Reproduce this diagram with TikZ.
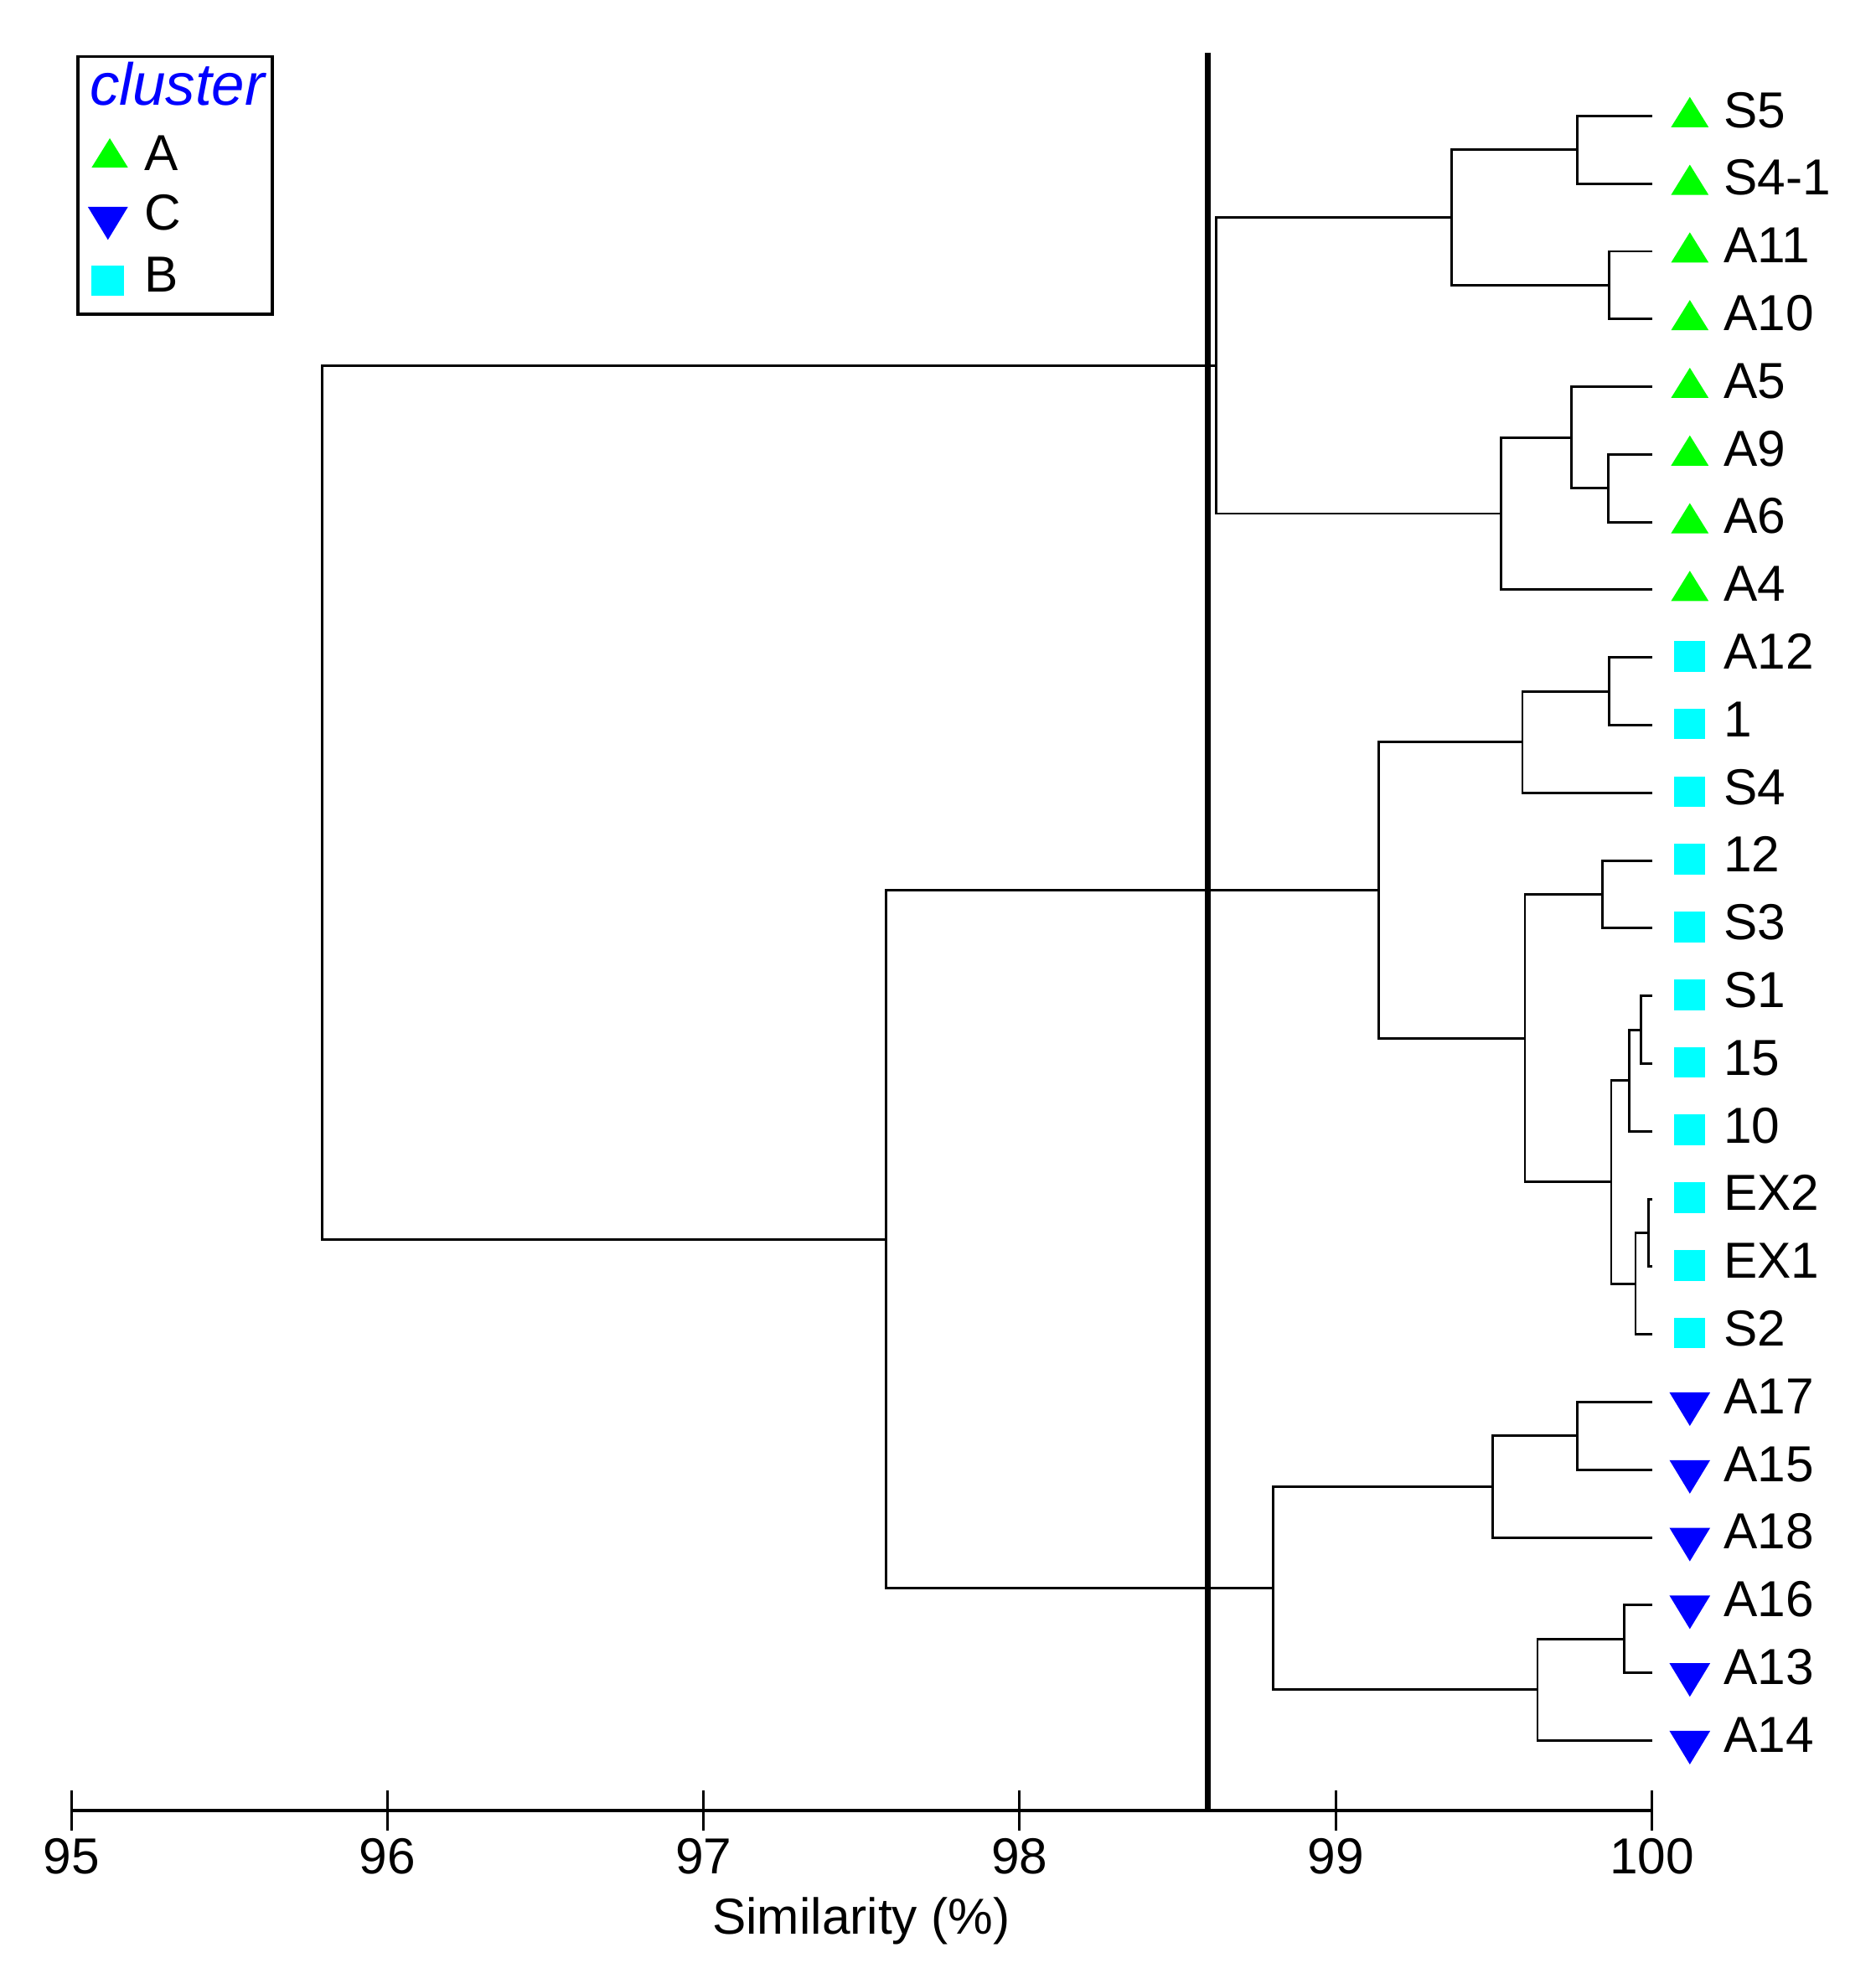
\documentclass[tikz,border=0pt]{standalone}
\usepackage{fontspec}
\setmainfont{Liberation Sans}
\usetikzlibrary{shapes.geometric}
\definecolor{cgreen}{RGB}{0,255,0}
\definecolor{cblue}{RGB}{0,0,255}
\definecolor{ccyan}{RGB}{0,255,255}
\tikzset{
  br/.style={line width=0.55pt, black},
  lab/.style={anchor=base west, inner sep=0pt, font=\fontsize{11.5}{13}\selectfont, yshift=-0.92mm},
  mu/.style={regular polygon, regular polygon sides=3, fill=cgreen, draw=none, inner sep=0pt, minimum size=3.46mm, yscale=0.93, yshift=-0.1mm},
  md/.style={regular polygon, regular polygon sides=3, shape border rotate=180, fill=cblue, draw=none, inner sep=0pt, minimum size=3.76mm, yscale=0.95, yshift=-0.13mm},
  ms/.style={rectangle, fill=ccyan, draw=none, inner sep=0pt, minimum width=2.46mm, minimum height=2.45mm, yshift=0.1mm},
  ticklab/.style={anchor=base, inner sep=0pt, font=\fontsize{11.5}{13}\selectfont},
}
\begin{document}
\begin{tikzpicture}[x=0.1mm, y=-0.1mm]
\useasboundingbox (0,0) rectangle (1498,1568);

% ---------- dendrogram ----------
\begin{scope}[y=-5.407mm, shift={(0mm,-9.26mm)}]
\foreach \n/\lab/\m [count=\i from 0] in {
  S5/S5/mu, S4-1/S4-1/mu, A11/A11/mu, A10/A10/mu, A5/A5/mu, A9/A9/mu, A6/A6/mu, A4/A4/mu,
  A12/A12/ms, 1/1/ms, S4/S4/ms, 12/12/ms, S3/S3/ms, S1/S1/ms, 15/15/ms, 10/10/ms,
  EX2/EX2/ms, EX1/EX1/ms, S2/S2/ms,
  A17/A17/md, A15/A15/md, A18/A18/md, A16/A16/md, A13/A13/md, A14/A14/md} {
  \coordinate (e-\n) at (1319.5,\i);
  \node[\m] (m-\n) at (1349.7,\i) {};
  \node[lab] (t-\n) at (1376,\i) {\lab};
}
% cluster A
\coordinate (a1) at (1260,0.5);
\coordinate (a2) at (1285,2.5);
\coordinate (a3) at (1159.4,1.5);
\coordinate (a4) at (1284.7,5.5);
\coordinate (a5) at (1255.2,4.75);
\coordinate (a6) at (1198.9,5.875);
\coordinate (a7) at (971.1,3.6875);
% cluster B
\coordinate (b1) at (1285,8.5);
\coordinate (b2) at (1216,9.25);
\coordinate (b3) at (1280,11.5);
\coordinate (b4) at (1310.8,13.5);
\coordinate (b5) at (1301.4,14.25);
\coordinate (b6) at (1316.4,16.5);
\coordinate (b7) at (1306.3,17.25);
\coordinate (b8) at (1286.9,15.75);
\coordinate (b9) at (1218,13.625);
\coordinate (b10) at (1101,11.4375);
% cluster C
\coordinate (c1) at (1260,19.5);
\coordinate (c2) at (1192,20.25);
\coordinate (c3) at (1297,22.5);
\coordinate (c4) at (1228,23.25);
\coordinate (c5) at (1017,21.75);
% upper joins
\coordinate (d1) at (708,16.59375);
\coordinate (root) at (257.3,10.140625);

\draw[br] (e-S5) -| (a1) |- (e-S4-1);
\draw[br] (e-A11) -| (a2) |- (e-A10);
\draw[br] (a1) -| (a3) |- (a2);
\draw[br] (e-A9) -| (a4) |- (e-A6);
\draw[br] (e-A5) -| (a5) |- (a4);
\draw[br] (a5) -| (a6) |- (e-A4);
\draw[br] (a3) -| (a7) |- (a6);

\draw[br] (e-A12) -| (b1) |- (e-1);
\draw[br] (b1) -| (b2) |- (e-S4);
\draw[br] (e-12) -| (b3) |- (e-S3);
\draw[br] (e-S1) -| (b4) |- (e-15);
\draw[br] (b4) -| (b5) |- (e-10);
\draw[br] (e-EX2) -| (b6) |- (e-EX1);
\draw[br] (b6) -| (b7) |- (e-S2);
\draw[br] (b5) -| (b8) |- (b7);
\draw[br] (b3) -| (b9) |- (b8);
\draw[br] (b2) -| (b10) |- (b9);

\draw[br] (e-A17) -| (c1) |- (e-A15);
\draw[br] (c1) -| (c2) |- (e-A18);
\draw[br] (e-A16) -| (c3) |- (e-A13);
\draw[br] (c3) -| (c4) |- (e-A14);
\draw[br] (c2) -| (c5) |- (c4);

\draw[br] (b10) -| (d1) |- (c5);
\draw[br] (a7) -| (root) |- (d1);
\end{scope}

% ---------- threshold line ----------
\coordinate (thr-top) at (964.6,42);
\coordinate (thr-bot) at (964.6,1446);
\draw[line width=1.2pt] (thr-top) -- (thr-bot);

% ---------- axis ----------
\coordinate (ax-l) at (57,1446);
\coordinate (ax-r) at (1319.3,1446);
\draw[line width=0.7pt] (ax-l) -- (ax-r);
\foreach \v [count=\k from 0] in {95,96,97,98,99,100} {
  \coordinate (tk-\v) at ({57+\k*252.46},1446);
  \draw[br] ([yshift=1.6mm]tk-\v) -- ([yshift=-1.65mm]tk-\v);
  \node[ticklab] (tl-\v) at ({57+\k*252.46},1497) {\v};
}
\node[ticklab] (xlabel) at (688,1545) {Similarity (\%)};

% ---------- legend ----------
\node[draw, line width=0.7pt, anchor=north west, inner sep=0pt, minimum width=15.54mm, minimum height=20.58mm] (legend) at (60.9,44) {};
\node[anchor=base west, inner sep=0pt, text=cblue, font=\fontsize{13.5}{15}\selectfont\itshape] (lg-title) at (71,83.7) {cluster};
\node[regular polygon, regular polygon sides=3, fill=cgreen, inner sep=0pt, minimum size=3.35mm, yscale=0.93] (lg-mA) at (87.7,126) {};
\node[regular polygon, regular polygon sides=3, shape border rotate=180, fill=cblue, inner sep=0pt, minimum size=3.7mm, yscale=0.95] (lg-mC) at (86.2,174) {};
\node[rectangle, fill=ccyan, inner sep=0pt, minimum width=2.6mm, minimum height=2.45mm] (lg-mB) at (86.1,224.2) {};
\node[anchor=base west, inner sep=0pt, font=\fontsize{11.5}{13}\selectfont] (lg-A) at (114.5,136.1) {A};
\node[anchor=base west, inner sep=0pt, font=\fontsize{11.5}{13}\selectfont] (lg-C) at (115,184) {C};
\node[anchor=base west, inner sep=0pt, font=\fontsize{11.5}{13}\selectfont] (lg-B) at (115,233) {B};
\end{tikzpicture}
\end{document}
